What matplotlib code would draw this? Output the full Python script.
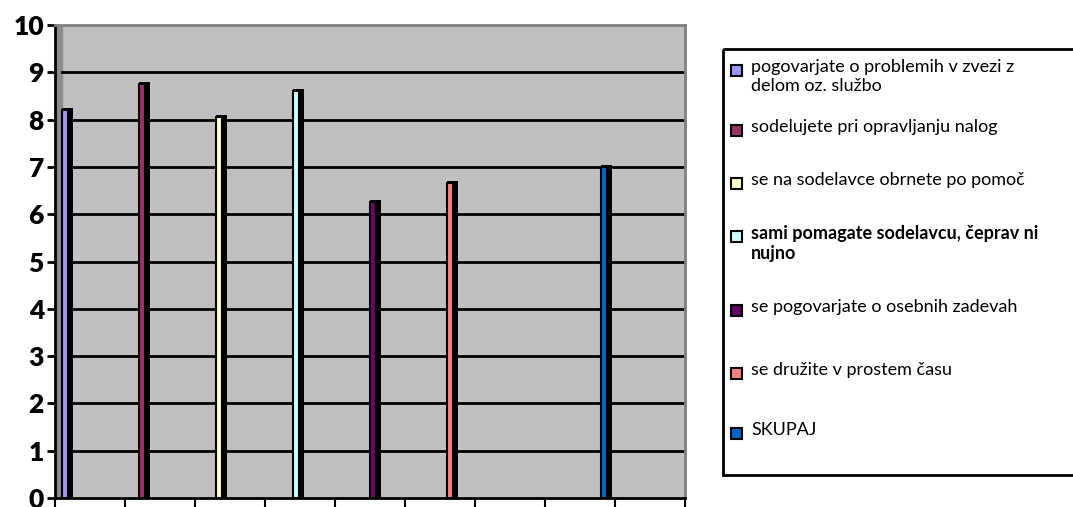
import matplotlib.pyplot as plt
from matplotlib.patches import Rectangle

plt.rcParams['font.family'] = ['Lato', 'DejaVu Sans']

labels = ['pogovarjate o problemih v zvezi z\ndelom oz. službo',
          'sodelujete pri opravljanju nalog',
          'se na sodelavce obrnete po pomoč',
          'sami pomagate sodelavcu, čeprav ni\nnujno',
          'se pogovarjate o osebnih zadevah',
          'se družite v prostem času',
          'SKUPAJ']
values = [8.2, 8.75, 8.05, 8.6, 6.25, 6.65, 7.0]
colors = ['#9999FF', '#993366', '#FFFFCC', '#CCFFFF', '#660066', '#FF8080', '#0066CC']
slots = [0, 1, 2, 3, 4, 5, 7]
bold = [False, False, False, True, False, False, False]
yticks = list(range(11))

W, H = 1073, 507
fig = plt.figure(figsize=(W / 100, H / 100), dpi=100)
ax = fig.add_axes([55 / W, (H - 498) / H, 630 / W, 473 / H])
ax.set_xlim(0, 9)
ax.set_ylim(0, 10)
ax.set_facecolor('#C0C0C0')

# side wall and gridlines
ax.axvspan(0, 0.1, color='#8C8C8C', zorder=1)
for y in yticks[1:-1]:
    ax.plot([0.1, 9], [y, y], color='black', lw=2, zorder=2)

step = 1.1
for s, v, c in zip(slots, values, colors):
    x0 = 0.1 + s * step
    ax.bar(x0, v + 0.05, width=0.16, align='edge', color='black', zorder=3)
    ax.bar(x0, v, width=0.085, align='edge', color=c, edgecolor='black',
           linewidth=1.5, zorder=4)

ax.set_xticks(range(10))
ax.set_xticklabels([])
ax.set_yticks(yticks)
ax.set_yticklabels([str(t) for t in yticks], fontsize=19, fontweight='heavy')
ax.tick_params(axis='y', length=6, width=2, pad=2)
ax.tick_params(axis='x', length=9, width=1.5)
for sp in ['left', 'bottom']:
    ax.spines[sp].set_linewidth(2)
for sp in ['top', 'right']:
    ax.spines[sp].set_color('#808080')
    ax.spines[sp].set_linewidth(2)

# legend box
lg = fig.add_axes([0, 0, 1, 1], zorder=5)
lg.set_xlim(0, W)
lg.set_ylim(H, 0)
lg.axis('off')
lg.add_patch(Rectangle((723, 49), 360, 426, fill=False, edgecolor='black', lw=2))
rows = [70, 130, 183, 236, 310, 373, 433]
for y, lab, c, b in zip(rows, labels, colors, bold):
    lg.add_patch(Rectangle((731, y - 5), 11, 11, facecolor=c, edgecolor='black', lw=1.5))
    lg.text(751, y - 11, lab, fontsize=13, va='top', ha='left',
            fontweight='bold' if b else 'normal', linespacing=1.2)

fig.savefig('out.png', dpi=100)
